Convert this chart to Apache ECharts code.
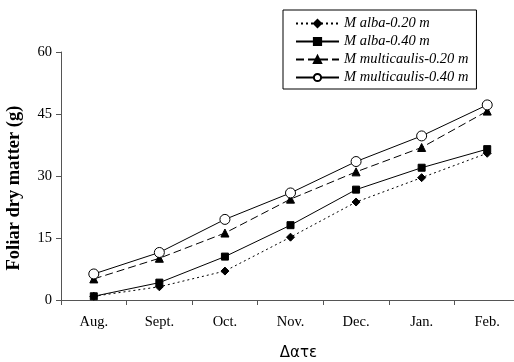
<!DOCTYPE html>
<html>
<head>
<meta charset="utf-8">
<script src="https://cdn.jsdelivr.net/npm/echarts@6/dist/echarts.min.js"></script>
<style>
html, body { margin: 0; padding: 0; background: #fff; }
#main { width: 514px; height: 362px; }
</style>
</head>
<body>
<div id="main"></div>
<script>
var months = ["Aug.", "Sept.", "Oct.", "Nov.", "Dec.", "Jan.", "Feb."];
var albaA = [0.9, 3.2, 7.0, 15.2, 23.7, 29.6, 35.5];
var albaB = [0.9, 4.2, 10.5, 18.1, 26.7, 32.0, 36.5];
var multiA = [5.1, 10.1, 16.2, 24.4, 31.0, 36.9, 45.7];
var multiB = [6.3, 11.5, 19.5, 25.9, 33.5, 39.7, 47.2];
var names = ["M alba-0.20 m", "M alba-0.40 m", "M multicaulis-0.20 m", "M multicaulis-0.40 m"];

var serif = "'Liberation Serif', 'Times New Roman', serif";

function mkSeries(name, data, symbol, size, lineType, fill) {
	return {
		name: name,
		type: 'line',
		data: data,
		symbol: symbol,
		symbolSize: size,
		showSymbol: true,
		animation: false,
		lineStyle: { color: '#000', width: 1, type: lineType },
		itemStyle: { color: fill, borderColor: '#000', borderWidth: 1 }
	};
}

var chart = echarts.init(document.getElementById('main'));
chart.setOption({
	backgroundColor: '#fff',
	grid: { left: 61, right: -6, top: 52, bottom: 62, outerBoundsMode: 'none', containLabel: false },
	legend: {
		orient: 'vertical',
		left: 283,
		top: 10,
		padding: [6, 8, 4, 12],
		itemGap: 3,
		itemWidth: 43,
		itemHeight: 9,
		borderColor: '#000',
		borderWidth: 1,
		backgroundColor: '#fff',
		borderRadius: 0,
		textStyle: { fontFamily: serif, fontStyle: 'italic', fontSize: 14.5, color: '#000' },
		data: names
	},
	xAxis: {
		type: 'category',
		data: months,
		boundaryGap: true,
		axisLine: { lineStyle: { color: '#555', width: 1 } },
		axisTick: { show: true, length: 5, lineStyle: { color: '#555' } },
		axisLabel: { fontFamily: serif, fontSize: 14.5, color: '#000', margin: 15 },
		name: 'Δατε',
		nameLocation: 'middle',
		nameGap: 46,
		nameTextStyle: { fontFamily: "'DejaVu Sans', sans-serif", fontSize: 15, color: '#000', padding: [0, 0, 0, 16] }
	},
	yAxis: {
		type: 'value',
		min: 0,
		max: 60,
		interval: 15,
		splitLine: { show: false },
		axisLine: { show: true, lineStyle: { color: '#555', width: 1 } },
		axisTick: { show: true, length: 5, lineStyle: { color: '#555' } },
		axisLabel: { fontFamily: serif, fontSize: 14.5, color: '#000', margin: 9 },
		name: 'Foliar dry matter (g)',
		nameLocation: 'middle',
		nameGap: 37,
		nameTextStyle: { fontFamily: serif, fontSize: 18.5, fontWeight: 'bold', color: '#000', padding: [0, 24, 0, 0] }
	},
	series: [
		mkSeries(names[0], albaA, 'diamond', 8, [2, 3], '#000'),
		mkSeries(names[1], albaB, 'rect', 7, 'solid', '#000'),
		mkSeries(names[2], multiA, 'triangle', 8, [8, 4], '#000'),
		mkSeries(names[3], multiB, 'circle', 10, 'solid', '#fff')
	]
});
</script>
</body>
</html>
